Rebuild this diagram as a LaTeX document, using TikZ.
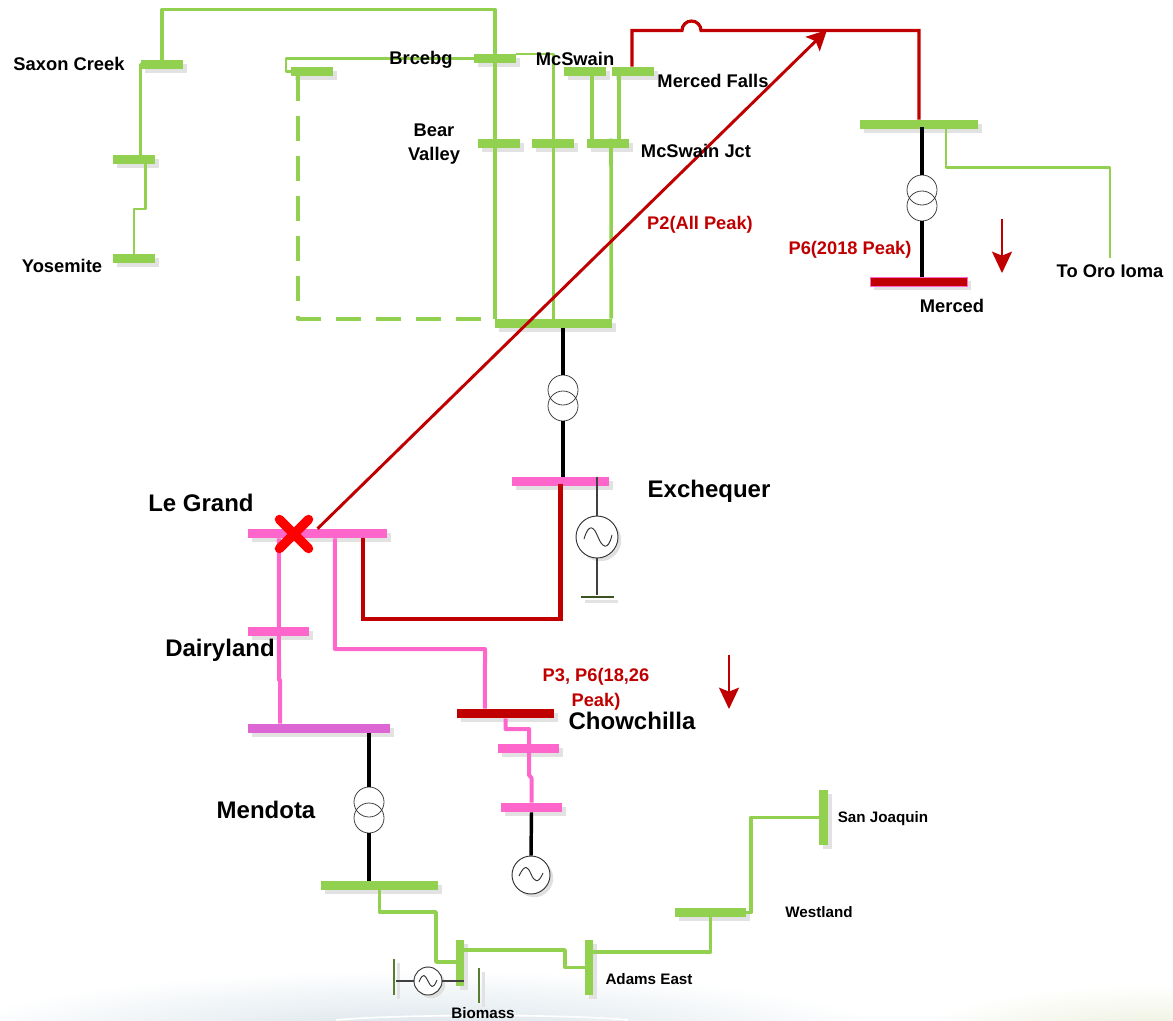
\documentclass[tikz,border=0pt]{standalone}
\usepackage{fontspec}
\setmainfont{Liberation Sans}
\usepackage{xcolor}
\usetikzlibrary{arrows.meta, shadows, shadings}
\definecolor{BusGreen}{HTML}{92D050}
\definecolor{BusPink}{HTML}{FF66CC}
\definecolor{BusViolet}{HTML}{DD66D4}
\definecolor{FlowRed}{HTML}{C00000}
\definecolor{ShadeGray}{HTML}{E2E2E2}
\definecolor{BandBlue}{HTML}{D5E1E8}
\definecolor{BandOlive}{HTML}{EBEDD8}
\tikzset{
  bus/.style={
    rectangle, draw=none, fill=BusGreen, inner sep=0pt,
    general shadow={fill=ShadeGray, shadow xshift=3.2pt, shadow yshift=-3.2pt}
  },
  pinkbus/.style={bus, fill=BusPink},
  redbus/.style={bus, fill=FlowRed},
  hbus/.style 2 args={minimum width=#1*0.75pt, minimum height=#2*0.75pt},
  gline/.style={BusGreen, line width=2.7pt, line join=round},
  pline/.style={BusPink, line width=3pt, line join=round},
  rline/.style={FlowRed, line width=3.4pt, line join=miter},
  bline/.style={black, line width=2.6pt},
  thin line/.style={black!75, line width=0.8pt},
  winding/.style={circle, draw=black!75, line width=0.6pt, minimum size=22.5pt, inner sep=0pt},
  gen/.style={circle, draw=black!80, line width=0.7pt, fill=white, inner sep=0pt,
    general shadow={fill=black!12, shadow xshift=2.4pt, shadow yshift=-2.4pt}},
  lab/.style={font=\bfseries\fontsize{13.75}{18}\selectfont, inner sep=0pt, align=center},
  biglab/.style={font=\bfseries\fontsize{18}{21}\selectfont, inner sep=0pt},
  smalllab/.style={font=\bfseries\fontsize{11.4}{13}\selectfont, inner sep=0pt},
  redlab/.style={font=\bfseries\fontsize{13.7}{18.75}\selectfont, text=FlowRed, inner sep=0pt, align=center},
  drop/.style={-{Stealth[length=16pt, width=15pt, inset=3pt]}, FlowRed, line width=1.8pt}
}
\begin{document}
\begin{tikzpicture}[x=0.75pt, y=-0.75pt]
  \useasboundingbox (0,0) rectangle (1173,1020);

  % bottom band
  \shade[inner color=BandBlue, outer color=white] (420,1040) ellipse (480 and 70);
  \shade[inner color=BandOlive, outer color=white] (1150,1040) ellipse (240 and 55);
  \draw[white, line width=1.2pt] (336,1020) .. controls (400,1014) and (570,1014) .. (628,1020);

  % buses
  \node[bus, hbus={42}{9}]        (saxon)   at (162,64.5)  {};
  \node[bus, hbus={42}{9}]        (saxonb)  at (134,159.5) {};
  \node[bus, hbus={42}{9}]        (yosemite) at (134,258.5) {};
  \node[bus, hbus={42}{9}]        (breeb)   at (312,71.5)  {};
  \node[bus, hbus={42}{9}]        (breea)   at (495,58.5)  {};
  \node[bus, hbus={42}{9}]        (mcswain) at (585,71.5)  {};
  \node[bus, hbus={42}{9}]        (mfalls)  at (633,71.5)  {};
  \node[bus, hbus={42}{9}]        (bear)    at (499,143.5) {};
  \node[bus, hbus={42}{9}]        (bearb)   at (553,143.5) {};
  \node[bus, hbus={42}{9}]        (jct)     at (608,143.5) {};
  \node[bus, hbus={117}{9}]       (exchtop) at (553.5,323.5) {};
  \node[bus, hbus={118}{9}]       (mercedt) at (919,124.5) {};
  \node[redbus, hbus={97}{9}, draw=BusPink, line width=0.5pt] (merced) at (918.5,281.5) {};
  \node[pinkbus, hbus={97}{9}]    (exch)    at (560.5,481.5) {};
  \node[pinkbus, hbus={139}{9}]   (legrand) at (317.5,533.5) {};
  \node[pinkbus, hbus={61}{9}]    (dairy)   at (278.5,631.5) {};
  \node[bus, fill=BusViolet, hbus={142}{9}] (mendota) at (319,728.5) {};
  \node[redbus, hbus={97}{9}]     (chow)    at (505.5,713.5) {};
  \node[pinkbus, hbus={61}{9}]    (chowb)   at (528.5,748.5) {};
  \node[pinkbus, hbus={61}{9}]    (chowc)   at (531.5,807.5) {};
  \node[bus, hbus={117}{9}]       (mendlow) at (379.5,885.5) {};
  \node[bus, hbus={8}{46}]        (biovert) at (460,963)   {};
  \node[bus, hbus={8}{55}]        (adams)   at (589,967.5) {};
  \node[bus, hbus={71}{9}]        (westland) at (710.5,912.5) {};
  \node[bus, hbus={9}{55}]        (sanjoa)  at (823.5,817.5) {};

  % bend points
  \coordinate (saxontop) at (162,9.5);
  \coordinate (yosebend) at (134,209);
  \coordinate (brcebend) at (286,58.5);
  \coordinate (orobend)  at (1110,167.5);
  \coordinate (oroend)   at (1110,258);
  \coordinate (biobend)  at (436,912);
  \coordinate (adamsbend) at (565,967.5);
  \coordinate (sanjbend) at (751,817.5);
  \coordinate (hopstart) at (682,30.5);
  \coordinate (redcorner) at (919,30.5);
  \coordinate (tipend)   at (827,30);
  \coordinate (redlow)   at (560.5,619);
  \coordinate (pinkjog)  at (279,680);
  \coordinate (chowbend) at (485,649);
  \coordinate (chowmid)  at (529,729);
  \coordinate (chowjog)  at (529,775);
  \coordinate (chowjogb) at (531.5,778);

  % green lines
  \draw[gline] (saxon.north) |- (saxontop) -| (exchtop.north west);
  \draw[gline] (saxon.west) -| ([xshift=4.9pt]saxonb.north);
  \draw[gline, line width=2.2pt] ([xshift=8.8pt]saxonb.south) |- (yosebend) -- (yosemite.north);
  \draw[gline, line width=2.1pt] (breea.west) -- (brcebend) |- (breeb.west);
  \draw[gline, line width=2.1pt] ([yshift=3.4pt]breea.east) -| (exchtop.north);
  \draw[gline, dash pattern=on 18.75pt off 11.25pt] ([xshift=-10.5pt]breeb.south) |- (exchtop.north west);
  \draw[gline] ([xshift=-12pt]jct.north) -- ([xshift=5.25pt]mcswain.south);
  \draw[gline] ([xshift=8.25pt]jct.north) -- ([xshift=-10.5pt]mfalls.south);
  \draw[gline] ([xshift=2.25pt]jct.north) -- ([xshift=-0.75pt]exchtop.north east);
  \draw[gline, line width=2.2pt] ([xshift=20.25pt]mercedt.south) |- (orobend) -- (oroend);
  \draw[gline] (mendlow.south) |- (biobend) |- ([yshift=0.75pt]biovert.west);
  \draw[gline] ([yshift=9.75pt]biovert.east) -| (adamsbend) -- (adams.west);
  \draw[gline] ([yshift=11.6pt]adams.east) -| (westland.south);
  \draw[gline] (westland.east) -| (sanjbend) -- (sanjoa.west);

  % red lines
  \draw[FlowRed, line width=2.4pt] ([xshift=-0.75pt]mfalls.north) |- (hopstart)
    arc[start angle=180, end angle=360, radius=9.5] -- (redcorner) -- (mercedt.north);
  \draw[-{Stealth[length=15pt, width=15pt, inset=3pt]}, FlowRed, line width=2.2pt] (legrand.north) -- (tipend);
  \draw[rline] ([xshift=34.1pt]legrand.south) |- (redlow) -- ([yshift=-2pt]exch.center);

  % pink lines
  \draw[pline] ([xshift=-28.9pt]legrand.south) -- (pinkjog) -| ([xshift=-29.25pt]mendota.north);
  \draw[pline] ([xshift=13.1pt]legrand.south) |- (chowbend) -- ([xshift=-15.4pt]chow.north);
  \draw[pline] (chow.south) |- (chowmid) -- (chowjog) -- (chowjogb) -- (chowc.north);

  % transformers
  \node[winding] (tmerceda) at (922,190) {};
  \node[winding] (tmercedb) at (922,206) {};
  \draw[bline] ([shift={(2.25pt,-2pt)}]mercedt.center) -- (tmerceda.north);
  \draw[bline] (tmercedb.south) -- (merced.north -| tmercedb);
  \node[winding] (texcha) at (563,390) {};
  \node[winding] (texchb) at (563,406) {};
  \draw[bline] (exchtop.south -| texcha) -- (texcha.north);
  \draw[bline] (texchb.south) -- (exch.north -| texchb);
  \node[winding] (tmenda) at (369,802) {};
  \node[winding] (tmendb) at (369,818) {};
  \draw[bline] (mendota.south -| tmenda) -- (tmenda.north);
  \draw[bline] (tmendb.south) -- (mendlow.north -| tmendb);

  % generators
  \node[gen, minimum size=31.5pt] (genexch) at (597,537) {};
  \draw[black!80, line width=0.7pt] (584,539) .. controls (589,522) and (594,527) .. (598,537) .. controls (602,547) and (608,552) .. (612,535);
  \node[bus, hbus={33}{2.5}, fill=black!60!BusGreen] (gndbar) at (597,597) {};
  \draw[thin line] (exch.north -| genexch) -- (genexch.north);
  \draw[thin line] (genexch.south) -- (gndbar.north);
  \node[gen, minimum size=28.5pt] (genchow) at (531,875) {};
  \draw[black!80, line width=0.7pt] (519,876) .. controls (525,863) and (528,867) .. (531,874) .. controls (534,881) and (538,885) .. (543,873);
  \draw[bline] (chowc.south) -- (genchow.north);
  \node[gen, minimum size=21pt] (genbio) at (428,981) {};
  \draw[black!80, line width=0.7pt] (419,982) .. controls (423,972) and (425,975) .. (428,981) .. controls (431,987) and (433,990) .. (437,980);
  \node[bus, hbus={2.5}{36}, fill=black!40!BusGreen] (biobar) at (394,977) {};
  \node[bus, hbus={2.5}{35}, fill=black!40!BusGreen] (biobarb) at (479,985.5) {};
  \draw[thin line] (biobar.east |- genbio) -- (genbio.west);
  \draw[thin line] (genbio.east) -- ([yshift=-13.5pt]biovert.east);

  % fault mark
  \node[inner sep=0pt, minimum size=21.5pt] (fault) at (294,534) {};
  \draw[red, line width=7pt, line cap=round] (fault.north west) -- (fault.south east);
  \draw[red, line width=7pt, line cap=round] (fault.north east) -- (fault.south west);

  % load arrows
  \coordinate (dropa) at (1002,219);
  \coordinate (dropb) at (729,655);
  \draw[drop] (dropa) -- ++(0,54);
  \draw[drop] (dropb) -- ++(0,54);

  % labels
  \node[lab] (lsaxon) at (69,64)   {Saxon Creek};
  \node[lab] (lyose)  at (62,266)  {Yosemite};
  \node[lab] (lbreeb) at (421,60)  {Brcebg};
  \node[lab] (lmcsw)  at (575,59)  {McSwain};
  \node[lab] (lmfall) at (713,81)  {Merced Falls};
  \node[lab] (lbear)  at (434,144) {Bear\\Valley};
  \node[lab] (ljct)   at (696,151) {McSwain Jct};
  \node[redlab] (lptwo) at (700,225) {P2(All Peak)};
  \node[redlab] (lpsix) at (850,250) {P6(2018 Peak)};
  \node[lab] (lmerced) at (952,306) {Merced};
  \node[lab] (loro)    at (1110,271) {To Oro Ioma};
  \node[biglab] (lgrand) at (201,503) {Le Grand};
  \node[biglab] (lexch)  at (709,491) {Exchequer};
  \node[biglab] (ldairy) at (220,650) {Dairyland};
  \node[biglab] (lchow)  at (632,721) {Chowchilla};
  \node[biglab] (lmend)  at (266,810) {Mendota};
  \node[redlab] (lpthree) at (596,689) {P3, P6(18,26\\Peak)};
  \node[smalllab] (lsan)  at (883,819) {San Joaquin};
  \node[smalllab] (lwest) at (819,912) {Westland};
  \node[smalllab] (ladam) at (649,979) {Adams East};
  \node[smalllab] (lbio)  at (483,1013) {Biomass};
\end{tikzpicture}
\end{document}
